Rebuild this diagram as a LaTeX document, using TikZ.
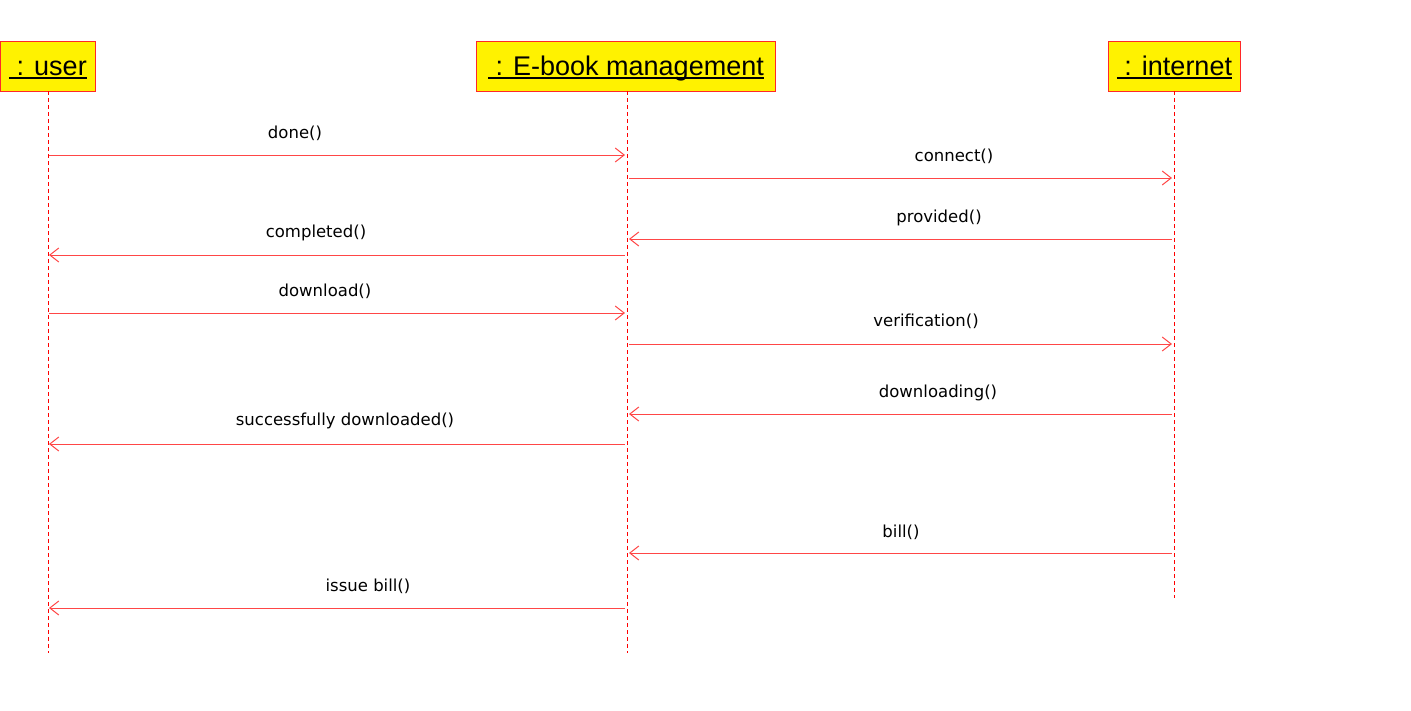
\documentclass[tikz,border=0pt]{standalone}
\usepackage{fontspec}
\setmainfont{Liberation Sans}
\newfontfamily\msgfont{DejaVu Sans}
\usetikzlibrary{arrows.meta}
\definecolor{boxred}{RGB}{255,40,40}
\definecolor{msgred}{RGB}{255,70,70}
\newsavebox\ulbox
\newcommand\objname[1]{\sbox\ulbox{#1}\rlap{\usebox\ulbox}\rule[-3pt]{\wd\ulbox}{1.6pt}}
\tikzset{
  obj/.style={draw=boxred, fill=yellow, line width=1pt, minimum height=50pt, inner sep=0pt, font=\fontsize{27}{29}\selectfont, anchor=north west, text depth=0pt, text height=18pt},
  life/.style={draw=red, line width=1pt, dash pattern=on 4pt off 3pt},
  msg/.style={draw=msgred, line width=1pt, -{Straight Barb[length=9pt,width=14pt,line width=1pt]}},
  lbl/.style={font=\msgfont\fontsize{16.5}{18}\selectfont, inner sep=0pt},
}
\begin{document}
\begin{tikzpicture}[x=1pt,y=-1pt]
\useasboundingbox (0,0) rectangle (1411,710);
% objects
\node[obj, minimum width=95pt] (u) at (0,41) {\objname{\ : user}};
\node[obj, minimum width=299pt] (e) at (476,41) {\objname{\ : E-book management}};
\node[obj, minimum width=132pt] (i) at (1108,41) {\objname{\ : internet}};
% lifeline ends
\coordinate (uend) at (48,653);
\coordinate (eend) at (627,653);
\coordinate (iend) at (1174,598);
\coordinate (utop) at (48,91);
\coordinate (etop) at (627,91);
\coordinate (itop) at (1174,91);
\draw[life] (utop) -- (uend);
\draw[life] (etop) -- (eend);
\draw[life] (itop) -- (iend);
% message end points
\foreach \n/\y in {1/155,2/178,3/239,4/255,5/313,6/344,7/414,8/444,9/553,10/608}{
  \coordinate (u\n) at (49,\y);
  \coordinate (el\n) at (625,\y);
  \coordinate (er\n) at (629,\y);
  \coordinate (i\n) at (1172,\y);
}
\draw[msg] (u1) -- (el1);
\node[lbl] (m1) at (295,133) {done()};
\draw[msg] (er2) -- (i2);
\node[lbl] (m2) at (954,156) {connect()};
\draw[msg] (i3) -- (er3);
\node[lbl] (m3) at (939,218) {provided()};
\draw[msg] (el4) -- (u4);
\node[lbl] (m4) at (316,233) {completed()};
\draw[msg] (u5) -- (el5);
\node[lbl] (m5) at (325,291) {download()};
\draw[msg] (er6) -- (i6);
\node[lbl] (m6) at (926,321) {verification()};
\draw[msg] (i7) -- (er7);
\node[lbl] (m7) at (938,393) {downloading()};
\draw[msg] (el8) -- (u8);
\node[lbl] (m8) at (345,421) {successfully downloaded()};
\draw[msg] (i9) -- (er9);
\node[lbl] (m9) at (901,532) {bill()};
\draw[msg] (el10) -- (u10);
\node[lbl] (m10) at (368,586) {issue bill()};
\end{tikzpicture}
\end{document}
